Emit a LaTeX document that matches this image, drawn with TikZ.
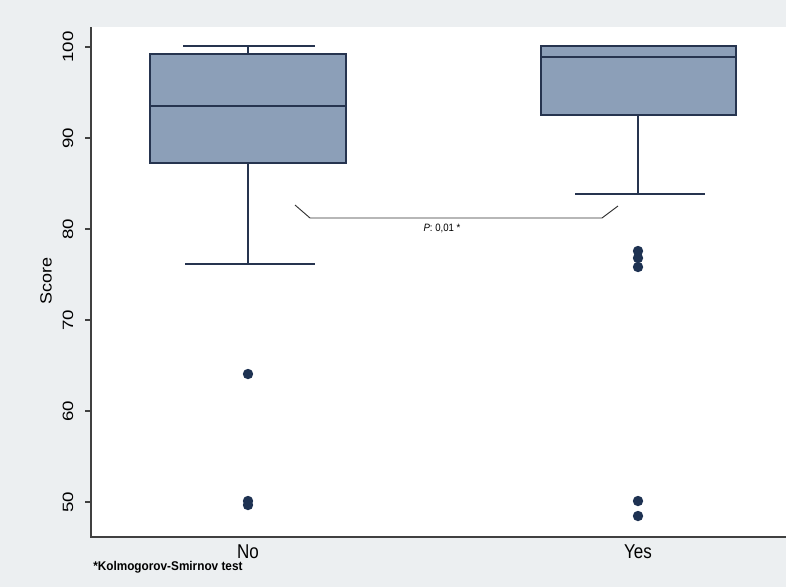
\documentclass[tikz,border=0pt]{standalone}
\usepackage{fontspec}
\setmainfont{Liberation Sans}
\usepackage{tikz}

\definecolor{outerbg}{HTML}{ECEFF1}
\definecolor{boxfill}{HTML}{8C9FB8}
\definecolor{boxline}{HTML}{26344F}
\definecolor{dotcol}{HTML}{1E3252}

% squeeze text across the page (the chart text is narrow)
\newcommand{\narrowup}[2]{\scalebox{1}[#1]{#2}}
\newcommand{\narrowtext}[2]{\scalebox{#1}[1]{#2}}

\tikzset{
  boxplot/.style = {draw = boxline, fill = boxfill, line width = 0.9pt},
  whisker/.style = {draw = boxline, line width = 0.9pt},
  axisline/.style = {draw = black!75, line width = 0.9pt},
  outlier/.style = {circle, fill = dotcol, inner sep = 0pt, minimum size = 7.8pt},
  ticklabel/.style = {rotate = 90, inner sep = 0pt, font = \fontsize{14}{14}\selectfont},
  grouplabel/.style = {inner sep = 0pt, font = \fontsize{15}{15}\selectfont},
}

\begin{document}
\begin{tikzpicture}[x = 0.75pt, y = -0.75pt]
  \useasboundingbox (0,0) rectangle (786,587);
  % background and plot region
  \fill[outerbg] (0,0) rectangle (786,587);
  \fill[white] (91,27) rectangle (786,537);

  % axes
  \draw[axisline] (91,27) -- (91,537) -- (786,537);
  \foreach \v in {50,60,...,100} {
    \draw[axisline] (85,{502-(\v-50)*9.1}) -- (91,{502-(\v-50)*9.1});
    \node[ticklabel] (tick\v) at (68,{502-(\v-50)*9.1}) {\narrowup{0.8}{\v}};
  }
  \node[ticklabel, font = \fontsize{13.5}{13.5}\selectfont] (score) at (46,281) {\narrowup{0.9}{Score}};

  % box for No
  \draw[whisker] (248,54) -- (248,46);
  \draw[whisker] (183,46) -- (315,46);
  \draw[whisker] (248,163) -- (248,264);
  \draw[whisker] (185,264) -- (315,264);
  \draw[boxplot] (150,54) rectangle (346,163);
  \draw[whisker] (150,106) -- (346,106);

  % box for Yes
  \draw[whisker] (638,115) -- (638,194);
  \draw[whisker] (575,194) -- (705,194);
  \draw[boxplot] (541,46) rectangle (736,115);
  \draw[whisker] (541,57) -- (736,57);

  % outside values
  \node[outlier] (no64) at (248,374) {};
  \node[outlier] (no50a) at (248,501) {};
  \node[outlier] (no50b) at (248,505) {};
  \node[outlier] (yes77a) at (638,251) {};
  \node[outlier] (yes77b) at (638,258) {};
  \node[outlier] (yes76) at (638,267) {};
  \node[outlier] (yes50) at (638,501) {};
  \node[outlier] (yes48) at (638,516) {};

  % test bracket
  \coordinate (brA) at (295,205);
  \coordinate (brB) at (310,218);
  \coordinate (brC) at (602,218);
  \coordinate (brD) at (618,206);
  \draw[black!80, line width = 0.7pt] (brA) -- (brB) -- (brC) -- (brD);
  \node[inner sep = 0pt, font = \fontsize{8}{8}\selectfont] (pval) at (442,228) {\narrowtext{0.9}{\textit{P}: 0,01 *}};

  % group labels
  \node[grouplabel] (no) at (248,552) {\narrowtext{0.85}{No}};
  \node[grouplabel] (yes) at (638,552) {\narrowtext{0.85}{Yes}};
  \node[inner sep = 0pt, anchor = west, font = \bfseries\fontsize{9.5}{9.5}\selectfont] (note) at (93,567) {\narrowtext{0.93}{*Kolmogorov-Smirnov test}};
\end{tikzpicture}
\end{document}
